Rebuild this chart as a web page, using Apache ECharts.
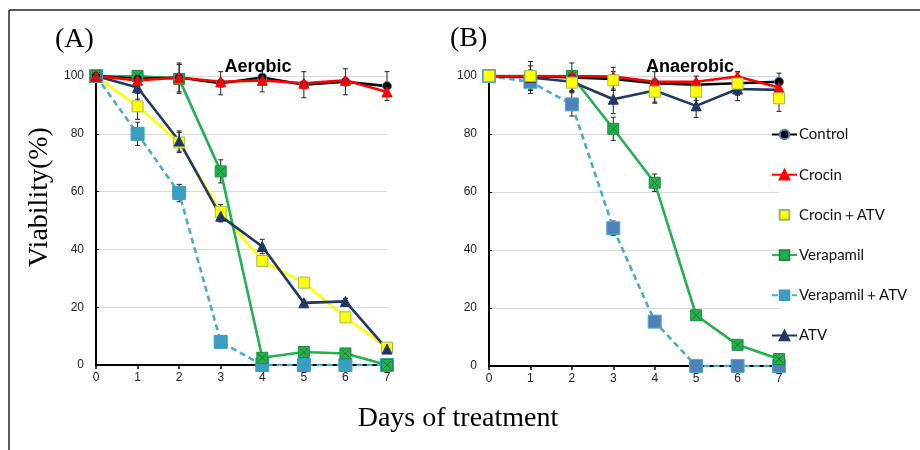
<!DOCTYPE html>
<html>
<head>
<meta charset="utf-8">
<script src="https://cdn.jsdelivr.net/npm/echarts@6/dist/echarts.min.js"></script>
<style>
  html, body { margin: 0; padding: 0; background: #fff; }
  #main { width: 920px; height: 450px; }
</style>
</head>
<body>
<div id="main"></div>
<script>
// days on the x axis
const days = [0, 1, 2, 3, 4, 5, 6, 7];
const seriesNames = ['Control', 'Crocin', 'Crocin＋ATV', 'Verapamil', 'Verapamil＋ATV', 'ATV'];

// (A) aerobic
const aerControl = [100, 99, 99.5, 97.5, 99.5, 97, 98, 96.5];
const aerCrocin = [100, 98.5, 99.5, 98, 98.5, 97.5, 98.5, 94.5];
const aerCrocinAtv = [100, 89.5, 77, 53, 36, 28.5, 16.5, 6];
const aerVera = [100, 100, 99, 67, 2.5, 4.5, 4, 0];
const aerVeraAtv = [100, 80, 59.5, 8, 0, 0, 0, 0];
const aerAtv = [100, 96, 77.5, 51.5, 41, 21.5, 22, 5.5];

const aerControlErr = [0, 2, 5, 4, 5, 4.5, 4.5, 5];
const aerCrocinAtvErr = [0, 4.5, 3.5, 2.5, 1.5, 1.5, 1, 1];
const aerVeraErr = [0, 1, 5, 4, 1, 1, 1, 0];
const aerVeraAtvErr = [0, 4, 3, 1, 0, 0, 0, 0];
const aerAtvErr = [0, 4, 3.5, 2, 2.5, 1, 1, 1];

// (B) anaerobic
const anaControl = [100, 100, 99.5, 99, 97.5, 97, 97.5, 98];
const anaCrocin = [100, 100, 100, 99.8, 98, 98, 99.8, 96];
const anaCrocinAtv = [100, 100, 97.7, 98.5, 94.6, 94.6, 97.4, 92.3];
const anaVera = [100, 100, 100, 81.8, 63.2, 17.5, 7.3, 2.4];
const anaVeraAtv = [100, 98, 90.2, 47.5, 15.3, 0, 0, 0];
const anaAtv = [100, 99.5, 98, 92, 95, 89.7, 95.5, 95.2];

const anaControlErr = [0, 5, 5, 4, 4, 3, 4, 3];
const anaCrocinAtvErr = [0, 2, 3, 3, 4, 3, 4, 4.5];
const anaVeraErr = [0, 1, 1, 4, 3, 1, 1, 1];
const anaVeraAtvErr = [0, 4, 4, 2.5, 1, 0, 0, 0];
const anaAtvErr = [0, 4, 3, 5, 4, 4, 4, 3];

const yTicks = [0, 20, 40, 60, 80, 100];

const chart = echarts.init(document.getElementById('main'));

const styles = {
  'Control': { color: '#000', symbol: 'circle', size: 9, border: '#4f81bd' },
  'Crocin': { color: '#ff0000', symbol: 'triangle', size: 10, border: '#ff0000' },
  'Crocin＋ATV': { color: '#ffff00', symbol: 'rect', size: 11, border: '#9bbb59' },
  'Verapamil': { color: '#22b14c', symbol: 'rect', size: 11, border: '#1e8c3e' },
  'Verapamil＋ATV': { color: '#4bacc6', symbol: 'rect', size: 12, border: '#4bacc6', dashed: true },
  'ATV': { color: '#1f3864', symbol: 'triangle', size: 10, border: '#1f3864' },
};

function toPoints(vals) {
  return days.map((d, i) => [d, vals[i]])
}

function lineSeries(name, vals, idx, opts) {
  const s = styles[name];
  opts = opts || {};
  return {
    name: name,
    type: 'line',
    xAxisIndex: idx,
    yAxisIndex: idx,
    data: toPoints(vals),
    symbol: s.symbol,
    symbolSize: opts.size || s.size,
    z: opts.z || 3,
    lineStyle: {
      color: s.color,
      width: 2.6,
      type: s.dashed ? [6, 4] : 'solid',
      opacity: opts.noLine ? 0 : 1,
    },
    itemStyle: {
      color: opts.markerColor || s.color,
      borderColor: opts.markerBorder || s.border,
      borderWidth: 1,
    },
    emphasis: { disabled: true },
    animation: false,
  }
}

// small x drawn over the verapamil squares
function crossSeries(vals, idx) {
  return {
    type: 'scatter',
    xAxisIndex: idx,
    yAxisIndex: idx,
    data: toPoints(vals),
    symbol: 'path://M0,0L1,1M1,0L0,1',
    symbolSize: 8,
    itemStyle: { color: 'none', borderColor: '#2e5e3a', borderWidth: 1 },
    z: 4,
    silent: true,
    animation: false,
  }
}

function errSeries(vals, errs, idx) {
  const data = days.map((d, i) => [d, vals[i] - errs[i], vals[i] + errs[i]]).filter((p, i) => errs[i] > 0);
  return {
    type: 'custom',
    xAxisIndex: idx,
    yAxisIndex: idx,
    data: data,
    z: 2,
    silent: true,
    animation: false,
    renderItem: function (params, api) {
      const lo = api.coord([api.value(0), api.value(1)]);
      const hi = api.coord([api.value(0), api.value(2)]);
      const cap = 2.5;
      const st = { stroke: '#222', lineWidth: 1 };
      return {
        type: 'group',
        children: [
          { type: 'line', shape: { x1: lo[0], y1: lo[1], x2: hi[0], y2: hi[1] }, style: st },
          { type: 'line', shape: { x1: lo[0] - cap, y1: lo[1], x2: lo[0] + cap, y2: lo[1] }, style: st },
          { type: 'line', shape: { x1: hi[0] - cap, y1: hi[1], x2: hi[0] + cap, y2: hi[1] }, style: st },
        ],
      }
    },
  }
}

function makeAxes(idx) {
  const xAxis = {
    type: 'value',
    gridIndex: idx,
    min: 0,
    max: 7,
    interval: 1,
    axisLine: { show: true, onZero: false, lineStyle: { color: '#000', width: 2 } },
    axisTick: { show: true, length: 4, lineStyle: { color: '#000', width: 1.5 } },
    axisLabel: { color: '#222', fontSize: 12, fontFamily: 'Arial, Liberation Sans', margin: 7 },
    splitLine: { show: false },
  };
  const yAxis = {
    type: 'value',
    gridIndex: idx,
    min: 0,
    max: 100,
    interval: 20,
    axisLine: { show: true, lineStyle: { color: '#000', width: 2 } },
    axisTick: { show: true, inside: true, length: 3, lineStyle: { color: '#000', width: 1 } },
    axisLabel: {
      color: '#222', fontSize: 12, fontFamily: 'Arial, Liberation Sans', margin: 12,
      formatter: (v) => yTicks.includes(v) ? String(v) : '',
    },
    splitLine: { show: true, lineStyle: { color: '#d9d9d9', width: 1 } },
  };
  return { xAxis, yAxis }
}

const a0 = makeAxes(0);
const a1 = makeAxes(1);

const series = [
  // panel A
  errSeries(aerControl, aerControlErr, 0),
  errSeries(aerCrocinAtv, aerCrocinAtvErr, 0),
  errSeries(aerVera, aerVeraErr, 0),
  errSeries(aerVeraAtv, aerVeraAtvErr, 0),
  errSeries(aerAtv, aerAtvErr, 0),
  lineSeries('Verapamil＋ATV', aerVeraAtv, 0, { markerColor: '#3a9ec0', markerBorder: '#3a9ec0', size: 13 }),
  lineSeries('Crocin＋ATV', aerCrocinAtv, 0),
  lineSeries('Verapamil', aerVera, 0),
  crossSeries(aerVera, 0),
  lineSeries('ATV', aerAtv, 0),
  lineSeries('Control', aerControl, 0),
  lineSeries('Crocin', aerCrocin, 0),
  // panel B
  errSeries(anaControl, anaControlErr, 1),
  errSeries(anaCrocinAtv, anaCrocinAtvErr, 1),
  errSeries(anaVera, anaVeraErr, 1),
  errSeries(anaVeraAtv, anaVeraAtvErr, 1),
  errSeries(anaAtv, anaAtvErr, 1),
  lineSeries('Verapamil＋ATV', anaVeraAtv, 1, { markerColor: '#4f81bd', markerBorder: '#4bacc6', size: 13 }),
  lineSeries('Verapamil', anaVera, 1),
  crossSeries(anaVera, 1),
  lineSeries('ATV', anaAtv, 1),
  lineSeries('Control', anaControl, 1),
  lineSeries('Crocin', anaCrocin, 1),
  lineSeries('Crocin＋ATV', anaCrocinAtv, 1, { noLine: true, z: 6 }),
];

const serifFont = '"Liberation Serif", "DejaVu Serif", serif';

chart.setOption({
  backgroundColor: '#fff',
  animation: false,
  grid: [
    { left: 96, top: 76, width: 291, height: 289 },
    { left: 489, top: 76, width: 290, height: 290 },
  ],
  xAxis: [a0.xAxis, a1.xAxis],
  yAxis: [a0.yAxis, a1.yAxis],
  title: [
    { text: 'Aerobic', left: 253, top: 53, textAlign: 'center',
      textStyle: { fontSize: 18, fontWeight: 'bold', color: '#000', fontFamily: 'Arial, Liberation Sans' } },
    { text: 'Anaerobic', left: 685, top: 53, textAlign: 'center',
      textStyle: { fontSize: 18, fontWeight: 'bold', color: '#000', fontFamily: 'Arial, Liberation Sans' } },
  ],
  legend: {
    orient: 'vertical',
    left: 771,
    top: 127,
    padding: 0,
    itemWidth: 25,
    itemHeight: 12,
    itemGap: 25.2,
    selectedMode: false,
    textStyle: { fontSize: 15, color: '#111', fontFamily: 'Lato, "Open Sans", sans-serif', padding: [0, 0, 0, -3] },
    data: seriesNames.map((n) => n === 'Crocin＋ATV'
      ? { name: n, lineStyle: { width: 0, opacity: 0 } }
      : { name: n }),
  },
  graphic: [
    // figure frame (top and left edges)
    { type: 'line', shape: { x1: 9, y1: 10, x2: 920, y2: 10 }, style: { stroke: '#222', lineWidth: 1.5 } },
    { type: 'line', shape: { x1: 9, y1: 10, x2: 9, y2: 450 }, style: { stroke: '#222', lineWidth: 1.5 } },
    { type: 'text', left: 55, top: 26, style: { text: '(A)', font: '28px ' + serifFont, fill: '#000' } },
    { type: 'text', left: 450, top: 25, style: { text: '(B)', font: '28px ' + serifFont, fill: '#000' } },
    { type: 'text', x: 40, y: 197, rotation: Math.PI / 2,
      style: { text: 'Viability(%)', font: '28px ' + serifFont, fill: '#000', align: 'center', verticalAlign: 'middle' } },
    { type: 'text', x: 458, y: 419,
      style: { text: 'Days of treatment', font: '28px ' + serifFont, fill: '#000', align: 'center', verticalAlign: 'middle' } },
  ],
  series: series,
});
</script>
</body>
</html>
